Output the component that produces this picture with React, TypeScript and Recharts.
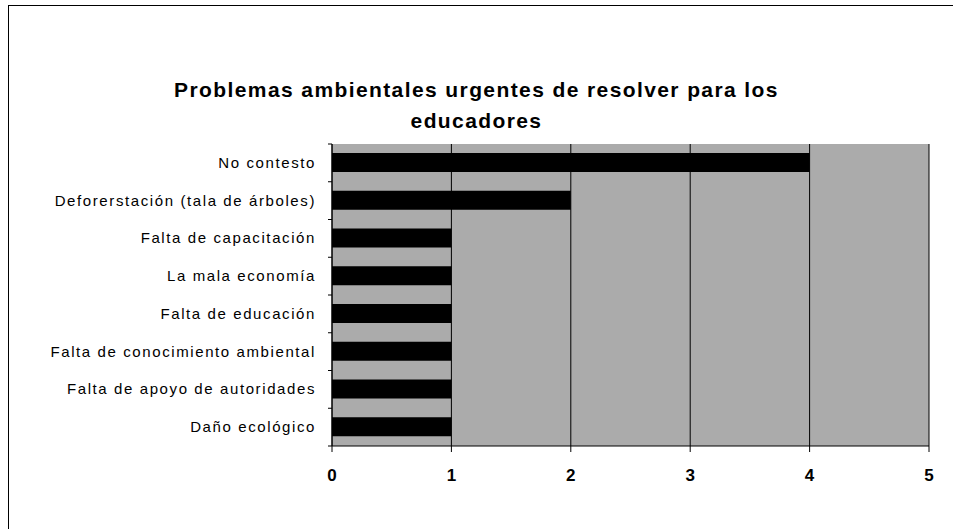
import { BarChart, Bar, XAxis, YAxis, CartesianGrid } from "recharts";

const categories = [
  "No contesto",
  "Deforerstación (tala de árboles)",
  "Falta de capacitación",
  "La mala economía",
  "Falta de educación",
  "Falta de conocimiento ambiental",
  "Falta de apoyo de autoridades",
  "Daño ecológico",
];
const counts = [4, 2, 1, 1, 1, 1, 1, 1];
const xTicks = [0, 1, 2, 3, 4, 5];

const data = categories.map((name, i) => ({ name, value: counts[i] }));

const FONT = "'Liberation Sans', Arial, sans-serif";
const PLOT_TOP = 144;
const PLOT_BOTTOM = 446;
const PLOT_RIGHT = 929;

// category ticks: label right-aligned plus a small tick at the band edges (Excel style)
function CategoryTick(props: any) {
  const { x, y, payload } = props;
  const band = (PLOT_BOTTOM - PLOT_TOP) / categories.length;
  return (
    <g>
      <line x1={x + 4} x2={x + 8} y1={y + band / 2} y2={y + band / 2} stroke="#000" />
      {payload.index === 0 && (
        <line x1={x + 4} x2={x + 8} y1={y - band / 2} y2={y - band / 2} stroke="#000" />
      )}
      <text
        x={x - 8}
        y={y}
        dy={5}
        textAnchor="end"
        fontFamily={FONT}
        fontSize={15}
        letterSpacing={1.6}
        fill="#000"
      >
        {payload.value}
      </text>
    </g>
  );
}

export default function App() {
  return (
    <div
      style={{
        position: "absolute",
        left: 0,
        top: 0,
        width: 953,
        height: 529,
        background: "#fff",
      }}
    >
      <div
        style={{
          position: "absolute",
          left: 8,
          top: 5,
          width: 945,
          height: 524,
          borderLeft: "1px solid #000",
          borderTop: "1px solid #000",
        }}
      />
      <div
        style={{
          position: "absolute",
          left: 0,
          top: 74,
          width: 953,
          textAlign: "center",
          fontFamily: FONT,
          fontWeight: "bold",
          fontSize: 21,
          letterSpacing: 1.4,
          lineHeight: "31px",
          color: "#000",
        }}
      >
        Problemas ambientales urgentes de resolver para los
        <br />
        educadores
      </div>
      <div style={{ position: "absolute", left: 0, top: 0 }}>
        <BarChart
          width={953}
          height={529}
          data={data}
          layout="vertical"
          barSize={19}
          margin={{ top: PLOT_TOP, right: 953 - PLOT_RIGHT, bottom: 43, left: 0 }}
        >
          <CartesianGrid
            horizontal={false}
            vertical
            stroke="#000"
            fill="#ababab"
            fillOpacity={1}
          />
          <XAxis
            type="number"
            domain={[0, 5]}
            ticks={xTicks}
            interval={0}
            height={40}
            axisLine={{ stroke: "#000" }}
            tickLine={{ stroke: "#000" }}
            tickSize={6}
            tickMargin={17}
            tick={{ fontFamily: FONT, fontSize: 17, fontWeight: "bold", fill: "#000" }}
          />
          {/* top frame line of the plot area */}
          <XAxis
            xAxisId="top"
            orientation="top"
            type="number"
            domain={[0, 5]}
            height={0}
            tick={false}
            tickLine={false}
            axisLine={{ stroke: "#000" }}
          />
          <YAxis
            type="category"
            dataKey="name"
            width={332}
            interval={0}
            axisLine={{ stroke: "#000" }}
            tickLine={false}
            tick={<CategoryTick />}
          />
          <Bar dataKey="value" fill="#000" isAnimationActive={false} />
        </BarChart>
      </div>
    </div>
  );
}
